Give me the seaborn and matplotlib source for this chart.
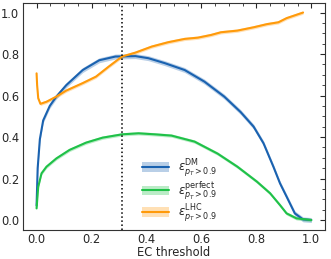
import numpy as np
import pandas as pd
import seaborn as sns
import matplotlib.pyplot as plt
from matplotlib.patches import Patch
from matplotlib.lines import Line2D

# efficiency curves
x_dm = [0.0, 0.004, 0.012, 0.024, 0.048, 0.072, 0.108, 0.168, 0.228, 0.287, 0.36,
        0.407, 0.467, 0.539, 0.611, 0.683, 0.743, 0.79, 0.826, 0.862, 0.886, 0.91,
        0.94, 0.97, 1.0]
y_dm = [0.07, 0.25, 0.39, 0.48, 0.55, 0.595, 0.65, 0.723, 0.77, 0.788, 0.79,
        0.78, 0.756, 0.723, 0.667, 0.595, 0.52, 0.45, 0.37, 0.257, 0.177, 0.113,
        0.032, 0.003, 0.0]

x_perf = [0.0, 0.006, 0.018, 0.036, 0.072, 0.12, 0.18, 0.24, 0.311, 0.371, 0.431,
          0.491, 0.575, 0.659, 0.731, 0.802, 0.85, 0.886, 0.91, 0.946, 1.0]
y_perf = [0.056, 0.16, 0.225, 0.257, 0.297, 0.338, 0.373, 0.397, 0.413, 0.418, 0.413,
          0.407, 0.378, 0.32, 0.257, 0.185, 0.129, 0.072, 0.032, 0.008, 0.0]

x_lhc = [0.0, 0.002, 0.006, 0.014, 0.036, 0.072, 0.108, 0.168, 0.216, 0.263, 0.311,
         0.36, 0.419, 0.479, 0.539, 0.587, 0.635, 0.671, 0.731, 0.79, 0.838, 0.88,
         0.91, 0.97]
y_lhc = [0.707, 0.65, 0.587, 0.56, 0.57, 0.595, 0.624, 0.66, 0.691, 0.74, 0.788,
         0.807, 0.836, 0.857, 0.873, 0.879, 0.892, 0.905, 0.913, 0.929, 0.944, 0.953,
         0.973, 1.0]

ec_cut = 0.31

series = [
    (x_dm, y_dm, '#1a62b0', r'$\epsilon^{\mathrm{DM}}_{p_T > 0.9}$', 0.012),
    (x_perf, y_perf, '#1fc148', r'$\epsilon^{\mathrm{perfect}}_{p_T > 0.9}$', 0.008),
    (x_lhc, y_lhc, '#ff9a0a', r'$\epsilon^{\mathrm{LHC}}_{p_T > 0.9}$', 0.008),
]

sns.set_style('white')
plt.rcParams['font.family'] = ['DejaVu Sans']
plt.rcParams['font.size'] = 8

fig, ax = plt.subplots(figsize=(3.31, 2.59), dpi=100)
fig.subplots_adjust(left=0.069, right=0.982, top=0.99, bottom=0.112)

handles = []
labels = []
for xs, ys, col, lab, w in series:
    df = pd.DataFrame({'x': xs, 'y': ys})
    ax.fill_between(df['x'], df['y'] - w, df['y'] + w, color=col, alpha=0.3, lw=0)
    sns.lineplot(data=df, x='x', y='y', color=col, lw=1.5, ax=ax)
    handles.append((Patch(facecolor=col, alpha=0.3, edgecolor='none'),
                    Line2D([], [], color=col, lw=1.5)))
    labels.append(lab)

ax.axvline(ec_cut, color='black', ls=':', lw=1.1)

ax.set_xlim(-0.05, 1.05)
ax.set_ylim(-0.048, 1.048)
ax.set_xticks([0.0, 0.2, 0.4, 0.6, 0.8, 1.0])
ax.set_yticks([0.0, 0.2, 0.4, 0.6, 0.8, 1.0])
ax.minorticks_on()
ax.tick_params(which='both', direction='in', top=True, right=True, labelsize=8.3, pad=2.5)
ax.tick_params(which='major', length=3.5)
ax.tick_params(which='minor', length=2)
for s in ax.spines.values():
    s.set_color('#333333')
ax.set_xlabel('EC threshold', fontsize=8.3, labelpad=0)
ax.set_ylabel('')

ax.legend(handles, labels, loc='lower left', bbox_to_anchor=(0.36, -0.02),
          frameon=False, fontsize=8.3, handlelength=2.3, handleheight=0.9,
          labelspacing=0.0)

plt.savefig('out.png', dpi=100)
